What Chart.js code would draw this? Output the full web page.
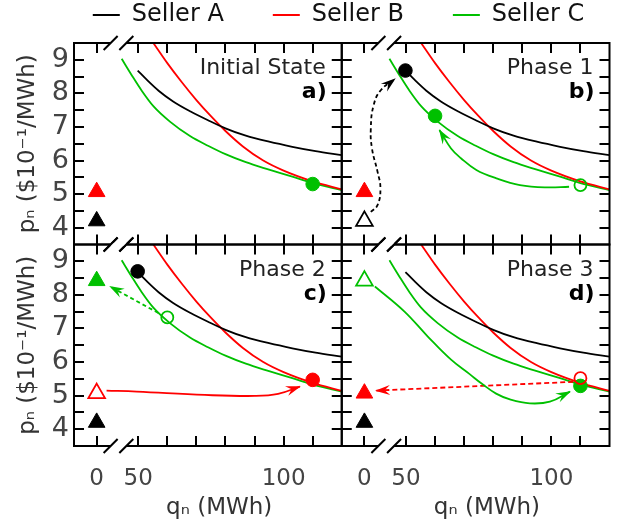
<!DOCTYPE html>
<html>
<head>
<meta charset="utf-8">
<script src="https://cdn.jsdelivr.net/npm/chart.js@4.4.0/dist/chart.umd.min.js"></script>
<style>
  html, body { margin: 0; padding: 0; background: #ffffff; }
  #wrap { position: relative; width: 621px; height: 523px; overflow: hidden; }
  #main { position: absolute; left: 0; top: 0; }
  #leg { position: absolute; left: 0px; top: -46px; }
</style>
</head>
<body>
<div id="wrap">
  <canvas id="leg" width="677" height="200"></canvas>
  <canvas id="main" width="621" height="523"></canvas>
</div>
<script>
// ---------------- data ----------------
const U0 = 35.7;                 // axis position that stands for q = 0 on the broken q axis
const sellerNames = ['Seller A', 'Seller B', 'Seller C'];
const panelTitles = ['Initial State', 'Phase 1', 'Phase 2', 'Phase 3'];
const panelTags = ['a)', 'b)', 'c)', 'd)'];
const xTickLabelQ = [0, 50, 100];
const xTickLabels = ['0', '50', '100'];
const xTickMarkQ = [0, 50, 60, 70, 80, 90, 100, 110];
const yTickLabelP = [4, 5, 6, 7, 8, 9];
const yTickMarkP = [4, 4.5, 5, 5.5, 6, 6.5, 7, 7.5, 8, 8.5, 9];

// price curves p(q) of each seller
const curveA_q = [49.8, 53, 57, 62, 68, 74, 80, 87, 95, 103, 111, 120];
const curveA_p = [8.68, 8.40, 8.08, 7.76, 7.46, 7.20, 6.96, 6.74, 6.56, 6.41, 6.28, 6.16];
const curveB_q = [55.2, 60, 65, 70, 75, 80, 86, 93, 100, 110, 120];
const curveB_p = [9.5, 8.90, 8.33, 7.80, 7.32, 6.88, 6.42, 6.00, 5.70, 5.38, 5.14];
const curveC_q = [44.3, 47.7, 51.2, 55.2, 60.9, 67.8, 74, 80, 87, 95, 103, 110, 120];
const curveC_p = [9.03, 8.55, 8.08, 7.62, 7.16, 6.73, 6.44, 6.19, 5.95, 5.73, 5.52, 5.33, 5.12];

// markers per panel: [seller, q, p, shape, filled]
const markersA = [[2, 110, 5.30, 'circle', 1], [0, 0, 4.2, 'triangle', 1], [1, 0, 5.07, 'triangle', 1]];
const markersB = [[0, 49.8, 8.68, 'circle', 1], [2, 60, 7.33, 'circle', 1], [2, 110, 5.27, 'circle', 0],
                  [0, 0, 4.2, 'triangle', 0], [1, 0, 5.07, 'triangle', 1]];
const markersC = [[0, 49.8, 8.70, 'circle', 1], [2, 60, 7.33, 'circle', 0], [2, 0, 8.42, 'triangle', 1],
                  [1, 0, 5.07, 'triangle', 0], [1, 110, 5.47, 'circle', 1], [0, 0, 4.2, 'triangle', 1]];
const markersD = [[2, 0, 8.42, 'triangle', 0], [1, 0, 5.07, 'triangle', 1], [0, 0, 4.2, 'triangle', 1],
                  [1, 110, 5.52, 'circle', 0], [2, 110, 5.29, 'circle', 1]];

// arrow paths (x in axis units of the broken axis, y in price units)
const arrowB1_x = [37.9, 40.2, 41.2, 40.2, 38.3, 37.9, 38.9, 41.4, 46.2];
const arrowB1_y = [4.47, 4.67, 5.17, 5.67, 6.36, 6.96, 7.66, 8.10, 8.43];
const arrowB2_x = [106.1, 98.4, 89.2, 81.1, 74.2, 68.9, 65.5, 61.5];
const arrowB2_y = [5.22, 5.20, 5.27, 5.47, 5.72, 6.07, 6.36, 6.91];
const arrowC1_x = [56.9, 40.3];
const arrowC1_y = [7.46, 8.25];
const arrowC2_x = [39.1, 49.5, 72.9, 90.1, 98.1, 105.6];
const arrowC2_y = [5.15, 5.12, 5.02, 4.99, 5.05, 5.27];
const arrowD1_x = [39.3, 49.4, 57.5, 65.5, 71.9, 76, 81, 86, 92.6, 99.5, 106.4];
const arrowD1_y = [8.25, 7.51, 6.76, 6.07, 5.64, 5.36, 5.06, 4.88, 4.77, 4.82, 5.12];
const arrowD2_x = [107.5, 39.7];
const arrowD2_y = [5.41, 5.15];

// ---------------- styling / assembly ----------------
const FONT = 'DejaVu Sans';
const COLORS = ['#000000', '#ff0000', '#00c000'];
const PANELS = [
  { x: 'xL', y: 'yT', markers: markersA, arrows: [] },
  { x: 'xR', y: 'yT', markers: markersB, arrows: [
      { xs: arrowB1_x, ys: arrowB1_y, s: 0, dash: [4, 3], tension: 0.45 },
      { xs: arrowB2_x, ys: arrowB2_y, s: 2, dash: [], tension: 0.4 } ] },
  { x: 'xL', y: 'yB', markers: markersC, arrows: [
      { xs: arrowC1_x, ys: arrowC1_y, s: 2, dash: [4, 3], tension: 0 },
      { xs: arrowC2_x, ys: arrowC2_y, s: 1, dash: [], tension: 0.4 } ] },
  { x: 'xR', y: 'yB', markers: markersD, arrows: [
      { xs: arrowD1_x, ys: arrowD1_y, s: 2, dash: [], tension: 0.4 },
      { xs: arrowD2_x, ys: arrowD2_y, s: 1, dash: [5, 3], tension: 0 } ] },
];
const CURVES = [[curveA_q, curveA_p], [curveB_q, curveB_p], [curveC_q, curveC_p]];
const ax = q => (q === 0 ? U0 : q);

const datasets = [];
PANELS.forEach(pn => {
  pn.markers.forEach(m => {
    const [s, q, p, shape, filled] = m;
    datasets.push({
      label: sellerNames[s] + ' state', data: [{ x: ax(q), y: p }],
      xAxisID: pn.x, yAxisID: pn.y, showLine: false,
      pointStyle: shape,
      pointRadius: shape === 'triangle' ? 9.6 : (filled ? 6.8 : 6),
      backgroundColor: filled ? COLORS[s] : 'rgba(255,255,255,0)',
      borderColor: COLORS[s], borderWidth: filled ? 1 : 1.8, order: 0
    });
  });
  pn.arrows.forEach(a => {
    datasets.push({
      label: sellerNames[a.s] + ' move', data: a.xs.map((x, i) => ({ x, y: a.ys[i] })),
      xAxisID: pn.x, yAxisID: pn.y, showLine: true, pointRadius: 0,
      borderColor: COLORS[a.s], borderWidth: 1.8, borderDash: a.dash, tension: a.tension,
      arrowHead: true, order: 1
    });
  });
  CURVES.forEach((c, s) => {
    datasets.push({
      label: sellerNames[s], data: c[0].map((q, i) => ({ x: ax(q), y: c[1][i] })),
      xAxisID: pn.x, yAxisID: pn.y, showLine: true, pointRadius: 0,
      borderColor: COLORS[s], borderWidth: 1.8, cubicInterpolationMode: 'monotone', order: 2
    });
  });
});

const xScaleCfg = w => ({
  type: 'linear', position: 'bottom', stack: 'bottom', stackWeight: 1, weight: w,
  min: 27.9, max: 120,
  afterBuildTicks: s => { s.ticks = xTickLabelQ.map(q => ({ value: ax(q) })); },
  afterFit: s => { s.height = 77; },
  ticks: {
    autoSkip: false, maxRotation: 0, minRotation: 0, font: { family: FONT, size: 23 }, color: '#444444', padding: 2,
    callback: v => { const i = xTickLabelQ.findIndex(q => Math.abs(ax(q) - v) < 1e-6); return i < 0 ? '' : xTickLabels[i]; }
  },
  grid: { display: false, drawTicks: true, tickLength: 17 }, border: { display: false }
});
const yScaleCfg = w => ({
  type: 'linear', position: 'left', stack: 'left', stackWeight: 1, weight: w,
  min: 3.5, max: 9.5,
  afterBuildTicks: s => { s.ticks = yTickLabelP.map(v => ({ value: v })); },
  afterFit: s => { s.width = 74; },
  ticks: { autoSkip: false, font: { family: FONT, size: 27 }, color: '#444444', padding: 5, callback: v => String(v) },
  grid: { display: false, drawTicks: false }, border: { display: false },
  title: { display: true, text: 'pₙ ($10⁻¹/MWh)', font: { family: FONT, size: 23 }, color: '#333333', padding: { top: 14, bottom: 0 } }
});

function drawArrowHead(ctx, x, y, ang, color) {
  const L = 14, W = 10;
  ctx.save();
  ctx.translate(x, y); ctx.rotate(ang);
  ctx.beginPath();
  ctx.moveTo(1, 0); ctx.lineTo(-L, -W / 2); ctx.lineTo(-L * 0.62, 0); ctx.lineTo(-L, W / 2);
  ctx.closePath();
  ctx.fillStyle = color; ctx.fill();
  ctx.restore();
}

const panelPlugin = {
  id: 'panelDecor',
  afterDatasetsDraw(chart) {
    const ctx = chart.ctx;
    chart.data.datasets.forEach((ds, i) => {
      if (!ds.arrowHead) return;
      const pts = chart.getDatasetMeta(i).data;
      const tip = pts[pts.length - 1];
      let bx = pts[pts.length - 2].x, by = pts[pts.length - 2].y;
      if (ds.tension > 0 && tip.cp1x !== undefined && (tip.cp1x !== tip.x || tip.cp1y !== tip.y)) { bx = tip.cp1x; by = tip.cp1y; }
      drawArrowHead(ctx, tip.x, tip.y, Math.atan2(tip.y - by, tip.x - bx), ds.borderColor);
    });
  },
  afterDraw(chart) {
    const ctx = chart.ctx;
    ctx.save();
    PANELS.forEach((pn, k) => {
      const xs = chart.scales[pn.x], ys = chart.scales[pn.y];
      const L = xs.left, R = xs.right, T = ys.top, B = ys.bottom;
      ctx.strokeStyle = '#000'; ctx.lineWidth = 2; ctx.setLineDash([]);
      // inward ticks
      ctx.beginPath();
      xTickMarkQ.forEach(q => {
        const px = Math.round(xs.getPixelForValue(ax(q)));
        ctx.moveTo(px, T); ctx.lineTo(px, T + 10);
        ctx.moveTo(px, B); ctx.lineTo(px, B - 10);
      });
      yTickMarkP.forEach(p => {
        const py = Math.round(ys.getPixelForValue(p));
        ctx.moveTo(L, py); ctx.lineTo(L + 10, py);
        ctx.moveTo(R, py); ctx.lineTo(R - 10, py);
      });
      ctx.stroke();
      ctx.strokeRect(L, T, R - L, B - T);
      // axis-break marks
      const b1 = xs.getPixelForValue(40.5), b2 = xs.getPixelForValue(45.9);
      [T, B].forEach(yy => {
        ctx.fillStyle = '#fff';
        ctx.fillRect(b1, yy - 1.5, b2 - b1, 3);
        ctx.beginPath();
        [b1, b2].forEach(bx => { ctx.moveTo(bx - 7, yy + 7); ctx.lineTo(bx + 7, yy - 7); });
        ctx.stroke();
      });
      // panel labels
      ctx.fillStyle = '#222'; ctx.textAlign = 'right'; ctx.textBaseline = 'alphabetic';
      ctx.font = '22px "' + FONT + '"';
      ctx.fillText(panelTitles[k], R - 16, T + 31);
      ctx.fillStyle = '#000';
      ctx.font = 'bold 22px "' + FONT + '"';
      ctx.fillText(panelTags[k], R - 15, T + 55);
    });
    // q axis titles (centered between the q = 0 tick and the right edge)
    ['xL', 'xR'].forEach(id => {
      const xs = chart.scales[id];
      const cx = (xs.getPixelForValue(ax(0)) + xs.right) / 2;
      ctx.fillStyle = '#333'; ctx.textAlign = 'center'; ctx.textBaseline = 'alphabetic';
      ctx.font = '23px "' + FONT + '"';
      ctx.fillText('qₙ (MWh)', cx, 514);
    });
    ctx.restore();
  }
};

new Chart(document.getElementById('main'), {
  type: 'scatter',
  data: { datasets },
  options: {
    responsive: false, animation: false, events: [],
    layout: { padding: { top: 43, left: 0, right: 11.5, bottom: 0 } },
    plugins: { legend: { display: false }, tooltip: { enabled: false } },
    scales: { xL: xScaleCfg(0), xR: xScaleCfg(1), yT: yScaleCfg(1), yB: yScaleCfg(0) }
  },
  plugins: [panelPlugin]
});

// legend (series keys)
new Chart(document.getElementById('leg'), {
  type: 'scatter',
  data: { datasets: sellerNames.map((n, s) => ({ label: n, data: [], backgroundColor: COLORS[s], borderColor: COLORS[s], borderWidth: 0 })) },
  options: {
    responsive: false, animation: false, events: [],
    scales: { x: { display: false }, y: { display: false } },
    plugins: {
      tooltip: { enabled: false },
      legend: { display: true, position: 'top', align: 'center',
        labels: { boxWidth: 27, boxHeight: 2, padding: 49, color: '#111', font: { family: FONT, size: 24 } } }
    }
  }
});
</script>
</body>
</html>
